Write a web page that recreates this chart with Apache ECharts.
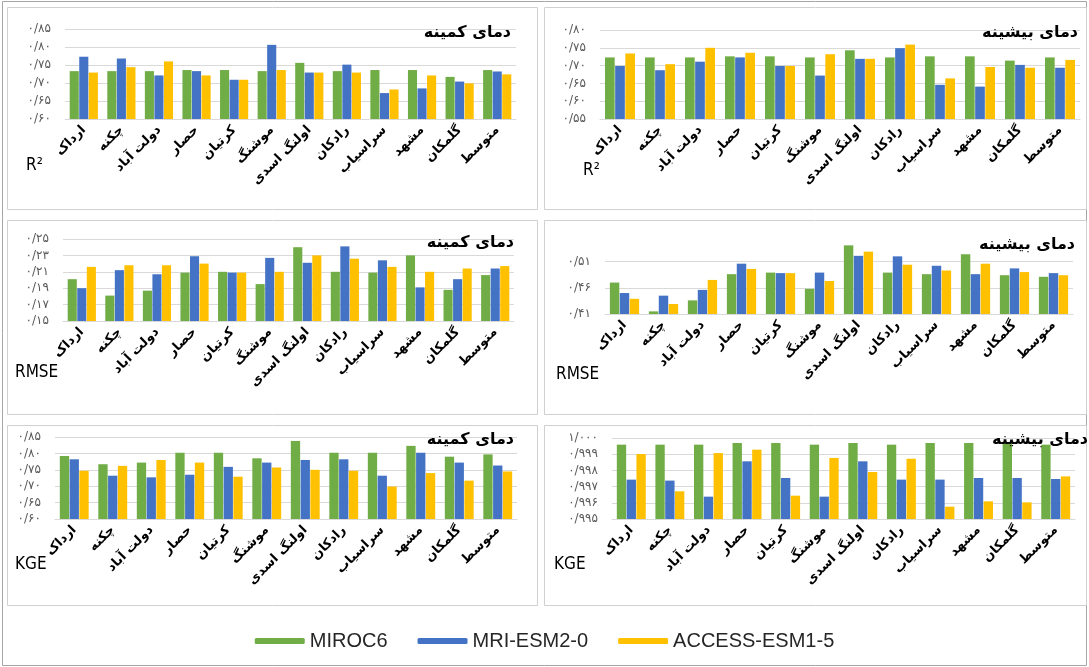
<!DOCTYPE html>
<html>
<head>
<meta charset="utf-8">
<script src="https://cdn.jsdelivr.net/npm/echarts@6/dist/echarts.min.js"></script>
<style>
  html, body { margin: 0; padding: 0; background: #fff; }
  #chart { width: 1089px; height: 667px; }
</style>
</head>
<body>
<div id="chart"></div>
<script>
// Stations (last one is the average over all stations)
const stations = ['ارداک', 'چکنه', 'دولت آباد', 'حصار', 'کرتیان', 'موشنگ', 'اولنگ اسدی', 'رادکان', 'سراسیاب', 'مشهد', 'گلمکان', 'متوسط'];
const modelNames = ['MIROC6', 'MRI-ESM2-0', 'ACCESS-ESM1-5'];
const modelColors = ['#70AD47', '#4472C4', '#FFC000'];

// R² — minimum temperature
const r2MinMiroc  = [0.733, 0.733, 0.733, 0.736, 0.736, 0.733, 0.756, 0.733, 0.736, 0.736, 0.717, 0.736];
const r2MinMri    = [0.773, 0.768, 0.721, 0.733, 0.709, 0.806, 0.729, 0.751, 0.672, 0.685, 0.704, 0.732];
const r2MinAccess = [0.729, 0.744, 0.760, 0.721, 0.709, 0.736, 0.729, 0.729, 0.682, 0.721, 0.699, 0.724];
// R² — maximum temperature
const r2MaxMiroc  = [0.723, 0.723, 0.723, 0.726, 0.726, 0.723, 0.743, 0.723, 0.726, 0.726, 0.714, 0.723];
const r2MaxMri    = [0.699, 0.687, 0.711, 0.723, 0.699, 0.672, 0.719, 0.749, 0.646, 0.641, 0.702, 0.694];
const r2MaxAccess = [0.734, 0.704, 0.750, 0.736, 0.699, 0.732, 0.719, 0.759, 0.664, 0.696, 0.694, 0.716];
// RMSE — minimum temperature
const rmseMinMiroc  = [0.201, 0.181, 0.187, 0.209, 0.210, 0.195, 0.240, 0.210, 0.209, 0.230, 0.188, 0.206];
const rmseMinMri    = [0.190, 0.212, 0.207, 0.229, 0.209, 0.227, 0.221, 0.241, 0.224, 0.191, 0.201, 0.214];
const rmseMinAccess = [0.216, 0.218, 0.218, 0.220, 0.209, 0.210, 0.230, 0.226, 0.216, 0.210, 0.214, 0.217];
// RMSE — maximum temperature
const rmseMaxMiroc  = [0.470, 0.415, 0.436, 0.486, 0.489, 0.458, 0.541, 0.489, 0.486, 0.524, 0.484, 0.481];
const rmseMaxMri    = [0.450, 0.445, 0.456, 0.506, 0.488, 0.489, 0.521, 0.520, 0.502, 0.486, 0.497, 0.488];
const rmseMaxAccess = [0.439, 0.429, 0.475, 0.496, 0.488, 0.473, 0.529, 0.504, 0.493, 0.506, 0.490, 0.484];
// KGE — minimum temperature
const kgeMinMiroc  = [0.792, 0.767, 0.772, 0.802, 0.802, 0.785, 0.838, 0.802, 0.802, 0.823, 0.790, 0.797];
const kgeMinMri    = [0.782, 0.732, 0.727, 0.735, 0.759, 0.772, 0.780, 0.782, 0.732, 0.802, 0.772, 0.763];
const kgeMinAccess = [0.747, 0.762, 0.780, 0.772, 0.729, 0.757, 0.750, 0.747, 0.699, 0.740, 0.717, 0.745];
// KGE — maximum temperature
const kgeMaxMiroc  = [0.99959, 0.99959, 0.99959, 0.99969, 0.99969, 0.99959, 0.99969, 0.99959, 0.99969, 0.99969, 0.99969, 0.99959];
const kgeMaxMri    = [0.99743, 0.99737, 0.99638, 0.99856, 0.99753, 0.99638, 0.99856, 0.99743, 0.99743, 0.99753, 0.99753, 0.99747];
const kgeMaxAccess = [0.99901, 0.99671, 0.99907, 0.99928, 0.99644, 0.99877, 0.99790, 0.99872, 0.99576, 0.99609, 0.99603, 0.99763];

// Value-axis tick positions
const r2MinTicks   = [0.60, 0.65, 0.70, 0.75, 0.80, 0.85];
const r2MaxTicks   = [0.55, 0.60, 0.65, 0.70, 0.75, 0.80];
const rmseMinTicks = [0.15, 0.17, 0.19, 0.21, 0.23, 0.25];
const rmseMaxTicks = [0.41, 0.46, 0.51];
const kgeMinTicks  = [0.60, 0.65, 0.70, 0.75, 0.80, 0.85];
const kgeMaxTicks  = [0.995, 0.996, 0.997, 0.998, 0.999, 1.000];

const titleMin = 'دمای کمینه';
const titleMax = 'دمای بیشینه';

const persianDigits = '۰۱۲۳۴۵۶۷۸۹';
function toPersian(v, decimals) {
  return v.toFixed(decimals).replace('.', '/').replace(/\d/g, d => persianDigits[d]);
}

const panels = [
  { title: titleMin, metric: 'R²',   series: [r2MinMiroc, r2MinMri, r2MinAccess],       ticks: r2MinTicks,   max: 0.85,  dec: 2,
    box: [7, 7, 530, 202],   grid: { left: 65,  top: 29,  width: 451, height: 90 }, titleAt: [511, 33],  metricAt: [26, 166] },
  { title: titleMax, metric: 'R²',   series: [r2MaxMiroc, r2MaxMri, r2MaxAccess],       ticks: r2MaxTicks,   max: 0.80,  dec: 2,
    box: [544, 7, 542, 202], grid: { left: 600, top: 30,  width: 480, height: 89 }, titleAt: [1078, 33], metricAt: [583, 171] },
  { title: titleMin, metric: 'RMSE', series: [rmseMinMiroc, rmseMinMri, rmseMinAccess], ticks: rmseMinTicks, max: 0.25,  dec: 2,
    box: [7, 220, 530, 194], grid: { left: 63,  top: 239, width: 451, height: 82 }, titleAt: [514, 243], metricAt: [15, 373] },
  { title: titleMax, metric: 'RMSE', series: [rmseMaxMiroc, rmseMaxMri, rmseMaxAccess], ticks: rmseMaxTicks, max: 0.555, dec: 2,
    box: [544, 220, 542, 194], grid: { left: 605, top: 238, width: 468, height: 76 }, titleAt: [1075, 245], metricAt: [556, 375] },
  { title: titleMin, metric: 'KGE',  series: [kgeMinMiroc, kgeMinMri, kgeMinAccess],    ticks: kgeMinTicks,  max: 0.85,  dec: 2,
    box: [7, 425, 530, 180], grid: { left: 55,  top: 437, width: 462, height: 82 }, titleAt: [514, 440], metricAt: [15, 565] },
  { title: titleMax, metric: 'KGE',  series: [kgeMaxMiroc, kgeMaxMri, kgeMaxAccess],    ticks: kgeMaxTicks,  max: 1.000, dec: 3,
    box: [544, 425, 542, 180], grid: { left: 612, top: 438, width: 463, height: 81 }, titleAt: [1088, 440], metricAt: [554, 565] }
];

const grids = [], xAxes = [], yAxes = [], series = [], graphics = [];

// outer frame of the figure
graphics.push({ type: 'rect', shape: { x: 2.5, y: 1.5, width: 1084, height: 664 }, style: { fill: 'none', stroke: '#a6a6a6', lineWidth: 1 }, silent: true, z: 0 });

panels.forEach((p, i) => {
  grids.push(p.grid);
  xAxes.push({
    type: 'category', gridIndex: i, data: stations,
    axisLine: { lineStyle: { color: '#d9d9d9' } },
    axisTick: { show: false },
    axisLabel: { interval: 0, rotate: 45, margin: 9, color: '#000', fontFamily: 'DejaVu Sans', fontWeight: 'bold', fontSize: 13 }
  });
  yAxes.push({
    type: 'value', gridIndex: i, min: p.ticks[0], max: p.max,
    axisLine: { show: false },
    axisTick: { show: false, customValues: p.ticks },
    axisLabel: { customValues: p.ticks, margin: 14, color: '#595959', fontFamily: 'DejaVu Sans', fontSize: 12,
                 formatter: v => toPersian(v, p.dec) },
    splitLine: { lineStyle: { color: '#d9d9d9', width: 1 } }
  });
  p.series.forEach((vals, k) => {
    series.push({
      type: 'bar', name: modelNames[k], xAxisIndex: i, yAxisIndex: i, data: vals,
      barGap: '5%', barCategoryGap: '25%',
      itemStyle: { color: modelColors[k] },
      emphasis: { disabled: true }
    });
  });
  const [bx, by, bw, bh] = p.box;
  graphics.push({ type: 'rect', shape: { x: bx + 0.5, y: by + 0.5, width: bw, height: bh }, style: { fill: 'none', stroke: '#d0d0d0', lineWidth: 1 }, silent: true, z: 0 });
  graphics.push({ type: 'text', x: p.titleAt[0], y: p.titleAt[1], z: 10, silent: true,
    style: { text: p.title, fill: '#000', font: 'bold 16px "DejaVu Sans"', textAlign: 'right', textVerticalAlign: 'middle' } });
  graphics.push({ type: 'text', x: p.metricAt[0], y: p.metricAt[1], z: 10, silent: true,
    style: { text: p.metric, fill: '#000', font: '17px "DejaVu Sans Condensed", "Liberation Sans", sans-serif', textAlign: 'left', textVerticalAlign: 'middle' } });
});

const chart = echarts.init(document.getElementById('chart'), null, { renderer: 'canvas' });
chart.setOption({
  animation: false,
  backgroundColor: '#fff',
  grid: grids,
  xAxis: xAxes,
  yAxis: yAxes,
  series: series,
  legend: {
    data: modelNames, left: 'center', top: 626,
    icon: 'roundRect', itemWidth: 50, itemHeight: 6, itemGap: 30,
    textStyle: { color: '#262626', fontFamily: 'Liberation Sans', fontSize: 20 }
  },
  graphic: graphics
});
</script>
</body>
</html>
